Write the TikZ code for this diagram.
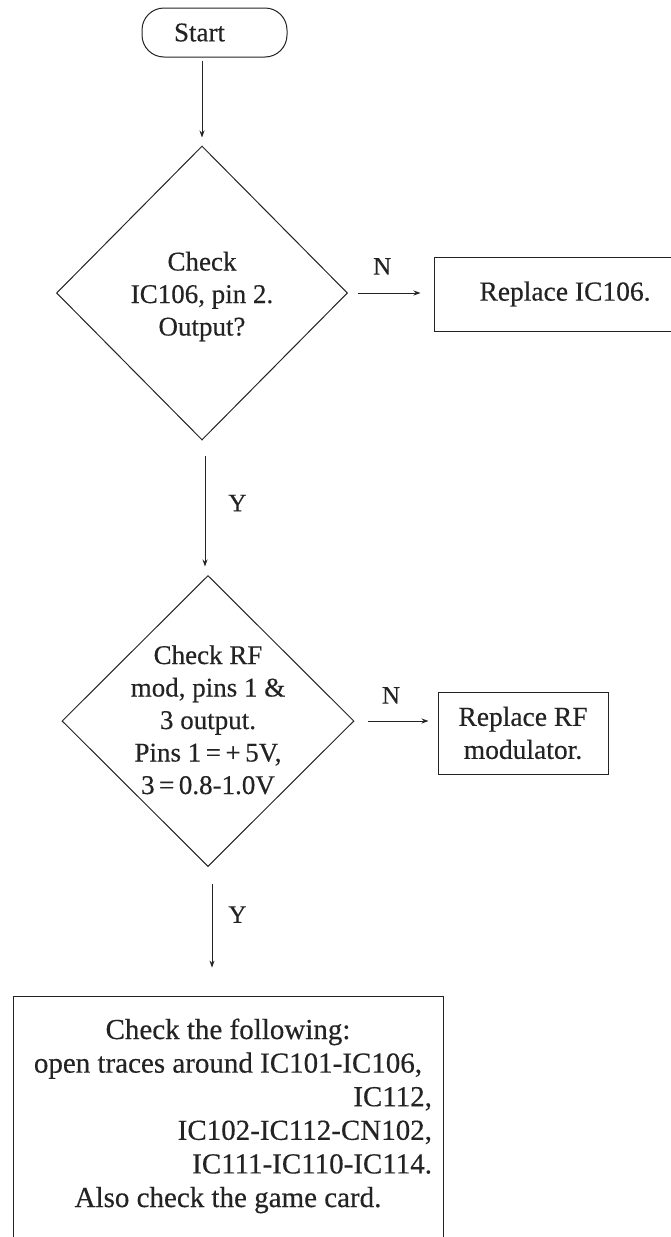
\documentclass[tikz,border=0pt]{standalone}
\usepackage{fontspec}
\setmainfont{Liberation Serif}[FakeBold=0.4]
\usetikzlibrary{shapes.geometric,arrows.meta}
\definecolor{inkcolor}{RGB}{35,35,35}

\begin{document}
\begin{tikzpicture}[x=1pt, y=-1pt,
    every node/.style={text=inkcolor},
    terminal/.style={draw=inkcolor, line width=1pt, rounded corners=22pt, minimum width=145pt, minimum height=49pt, font=\fontsize{27}{32.5}\selectfont},
    decision/.style={diamond, draw=inkcolor, line width=1pt, inner sep=0pt, text width=170pt, align=flush center, text height=0pt, font=\fontsize{27}{32.5}\selectfont},
    process/.style={draw=inkcolor, line width=1pt, align=flush center, font=\fontsize{27.5}{33}\selectfont},
    flow/.style={draw=inkcolor, line width=0.9pt, -{Stealth[length=7pt, width=5pt]}},
    answer/.style={inner sep=2pt, font=\fontsize{25}{28}\selectfont}]

    % Page frame
    \useasboundingbox (0,0) rectangle (670,1237);

    % Start
    \node[terminal] (start) at (214.5,32.5) {\hspace*{-30pt}Start};

    % IC106 check
    \node[decision, minimum width=291pt, minimum height=294pt, text depth=45pt] (chk106) at (202,293) {Check\\ IC106, pin 2.\\ Output?};
    \node[process, minimum width=238pt, minimum height=74pt] (rep106) at (553,294) {\hspace*{24pt}Replace IC106.};

    % RF modulator check
    \node[decision, minimum width=292pt, minimum height=291pt, text depth=114pt] (chkrf) at (208,721) {Check RF\\ mod, pins 1 \&\\ 3 output.\\ Pins 1\,=\,+\,5V,\\ 3\,=\,0.8-1.0V};
    \node[process, minimum width=170pt, minimum height=82pt] (reprf) at (523,733) {Replace RF\\ modulator.};

    % Last resort
    \node[draw=inkcolor, line width=1pt, anchor=base, text width=408pt, align=flush center, inner xsep=11pt, inner ysep=22.5pt, text depth=200pt, font=\fontsize{29}{33.6}\selectfont] (traces) at (228,1039) {Check the following:\\ open traces around IC101-IC106,\\ \hspace*{\fill}IC112,\\ \hspace*{\fill}IC102-IC112-CN102,\\ \hspace*{\fill}IC111-IC110-IC114.\\ Also check the game card.};

    % Arrows
    \draw[flow, shorten <=3pt, shorten >=8pt] (chk106.north |- start.south) -- (chk106.north);
    \draw[flow, shorten <=9.5pt, shorten >=13pt] (chk106.east) -- (chk106.east -| rep106.west) node[answer, pos=0.4, above=16pt] {N};
    \draw[flow, shorten <=15pt, shorten >=8.5pt] ([xshift=3pt]chk106.south) -- ([xshift=3pt]chk106.south |- chkrf.north) node[answer, pos=0.465, right=21pt] {Y};
    \draw[flow, shorten <=13pt, shorten >=9pt] (chkrf.east) -- (chkrf.east -| reprf.west) node[answer, pos=0.44, above=15pt] {N};
    \draw[flow, shorten <=16.5pt, shorten >=28pt] ([xshift=4pt]chkrf.south) -- ([xshift=4pt]chkrf.south |- traces.north) node[answer, pos=0.37, right=14pt] {Y};
\end{tikzpicture}
\end{document}
